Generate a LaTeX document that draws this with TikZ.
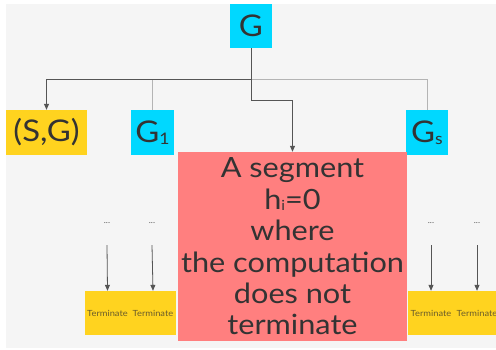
\documentclass[tikz,border=0pt]{standalone}
\usepackage{fontspec}
\setmainfont{Lato}[FakeStretch=1.1]
\usetikzlibrary{arrows.meta}
\definecolor{bgc}{HTML}{F5F5F5}
\definecolor{cyanbox}{HTML}{00D8FF}
\definecolor{yellowbox}{HTML}{FFD31F}
\definecolor{redbox}{HTML}{FF7F7F}
\definecolor{ink}{HTML}{333333}
\definecolor{darkline}{HTML}{555555}
\definecolor{liteline}{HTML}{B4B4B4}
\definecolor{smallink}{HTML}{6A5C2A}
\newcommand{\subsc}[1]{\raisebox{-1.5bp}{\fontsize{16}{16}\selectfont #1}}
\newcommand{\subsi}[1]{\raisebox{-1.5bp}{\fontsize{14}{14}\selectfont #1}}
\tikzset{
  box/.style={draw=none, inner sep=0pt, text=ink, align=center},
  bigtext/.style={font=\fontsize{30}{30}\selectfont},
  cyanbox/.style={box, fill=cyanbox, bigtext},
  yellowbig/.style={box, fill=yellowbox, bigtext},
  termbox/.style={box, fill=yellowbox, minimum width=46bp, minimum height=44bp,
    text=smallink, font=\fontsize{8.5}{9}\selectfont},
  dots/.style={inner sep=0pt, minimum height=44bp, text=darkline,
    font=\fontsize{8}{8}\selectfont},
  darkedge/.style={draw=darkline, line width=0.8bp},
  liteedge/.style={draw=liteline, line width=0.8bp},
  arr/.style={-{Triangle[length=6bp,width=5bp]}}
}
\begin{document}
\begin{tikzpicture}[x=1bp,y=-1bp]
\useasboundingbox (0,0) rectangle (496,349);
\fill[bgc] (6,4) rectangle (496,348);

% top node and the first row
\node[cyanbox, minimum width=42bp, minimum height=44bp] (G) at (251,26) {G};
\node[yellowbig, minimum width=81bp, minimum height=45bp] (SG) at (46.5,132.5) {(S,G)};
\node[cyanbox, minimum width=43bp, minimum height=45bp] (G1) at (152.5,132.5) {G\subsc{1}};
\node[cyanbox, minimum width=42bp, minimum height=45bp] (Gs) at (427,132.5) {G\subsc{s}};

% the non-terminating segment
\node[box, fill=redbox, minimum width=229bp, minimum height=189bp,
      font=\fontsize{28}{31.5}\selectfont] (seg) at (292.5,246.5)
  {A segment\\h\subsi{i}=0\\where\\the computation\\does not\\terminate};

% elided branches below G1 and Gs
\node[dots] (d1) at (107,223) {...};
\node[dots] (d2) at (152,223) {...};
\node[dots] (d3) at (431,223) {...};
\node[dots] (d4) at (477,223) {...};

\node[termbox, minimum width=45bp] (t1) at (107.5,313) {Terminate};
\node[termbox] (t2) at (153,313) {Terminate};
\node[termbox] (t3) at (431,313) {Terminate};
\node[termbox] (t4) at (477,313) {Terminate};

% connectors
\draw[liteedge] (G.south) -- ++(0,31) -| (G1.north);
\draw[liteedge] (G.south) -- ++(0,31) -| (Gs.north);
\draw[darkedge, arr] (G.south) -- ++(0,31) -| (SG.north);
\draw[darkedge, arr] (G.south) -- ++(0,52) -| (seg.north);

\draw[darkedge, arr] (d1.south) -- (t1.north);
\draw[darkedge, arr] (d2.south) -- (t2.north);
\draw[darkedge, arr] (d3.south) -- (t3.north);
\draw[darkedge, arr] (d4.south) -- (t4.north);
\end{tikzpicture}
\end{document}
